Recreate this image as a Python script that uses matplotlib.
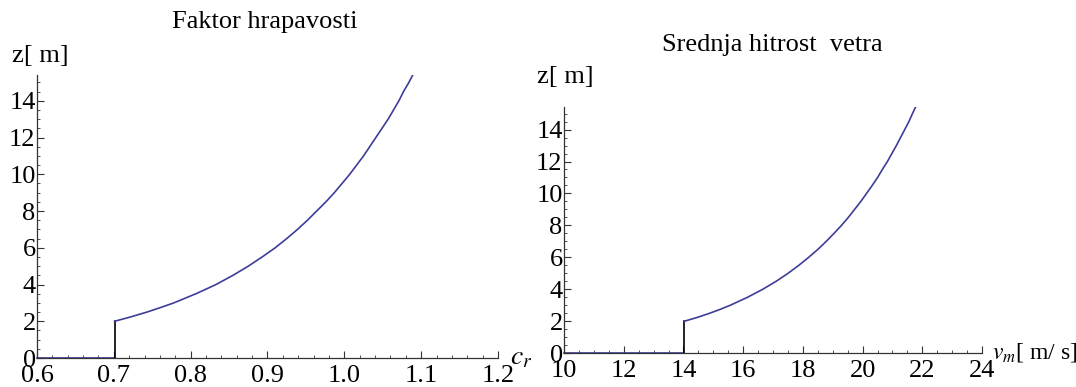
import matplotlib
matplotlib.use('Agg')
import matplotlib.pyplot as plt
from matplotlib.ticker import MultipleLocator, FormatStrFormatter

plt.rcParams['font.family'] = ['Liberation Serif', 'DejaVu Serif']
plt.rcParams['mathtext.fontset'] = 'stix'

# heights
z = [2, 2.25, 2.5, 2.75, 3, 3.5, 4, 4.5, 5, 5.5, 6, 6.5, 7, 7.5, 8, 8.5,
     9, 9.5, 10, 10.5, 11, 11.5, 12, 12.5, 13, 13.5, 14, 14.5, 15, 15.4]
# roughness factor c_r
c_r = [0.701, 0.723, 0.743, 0.761, 0.778, 0.807, 0.833, 0.855, 0.875, 0.893,
       0.910, 0.925, 0.939, 0.952, 0.964, 0.976, 0.987, 0.997, 1.007, 1.016,
       1.025, 1.033, 1.041, 1.049, 1.057, 1.064, 1.071, 1.077, 1.084, 1.089]
# mean wind speed v_m [m/s]
v_m = [14.02, 14.47, 14.87, 15.23, 15.56, 16.14, 16.65, 17.10, 17.50, 17.86,
       18.19, 18.50, 18.78, 19.04, 19.29, 19.52, 19.73, 19.94, 20.13, 20.32,
       20.50, 20.66, 20.83, 20.98, 21.13, 21.27, 21.41, 21.55, 21.67, 21.77]

blue = '#3d3d99'
fs = 19

fig = plt.figure(figsize=(10.76, 3.87), dpi=100)
ax1 = fig.add_axes([0.0344, 0.0749, 0.4284, 0.731])
ax2 = fig.add_axes([0.5242, 0.0871, 0.3885, 0.636])


def style(ax, xlim, xmaj, xmin):
    ax.set_xlim(*xlim)
    ax.set_ylim(0, 15.4)
    for s in ['top', 'right']:
        ax.spines[s].set_visible(False)
    for s in ['left', 'bottom']:
        ax.spines[s].set_color('#333333')
        ax.spines[s].set_linewidth(0.9)
    ax.xaxis.set_major_locator(MultipleLocator(xmaj))
    ax.xaxis.set_minor_locator(MultipleLocator(xmin))
    ax.yaxis.set_major_locator(MultipleLocator(2))
    ax.yaxis.set_minor_locator(MultipleLocator(0.5))
    ax.tick_params(which='major', direction='in', length=5, width=0.8,
                   labelsize=fs, color='#333333', pad=1)
    ax.tick_params(which='minor', direction='in', length=2.5, width=0.6,
                   color='#333333')
    ax.tick_params(axis='x', pad=5)


# left: roughness factor
ax1.plot([0.6, c_r[0]], [0, 0], color=blue, lw=1.2, clip_on=False)
ax1.plot([c_r[0], c_r[0]], [0, z[0]], color='black', lw=1.2)
ax1.plot(c_r, z, color=blue, lw=1.2)
style(ax1, (0.6, 1.2), 0.1, 0.02)
ax1.xaxis.set_major_formatter(FormatStrFormatter('%.1f'))
fig.text(265 / 1076, 1 - 22 / 387, 'Faktor hrapavosti', ha='center',
         va='center', fontsize=fs)
fig.text(12 / 1076, 1 - 56 / 387, 'z[ m]', ha='left', va='center',
         fontsize=fs)
fig.text(510 / 1076, 1 - 358 / 387, '$c_r$', ha='left', va='center',
         fontsize=fs + 1)

# right: mean wind speed
ax2.plot([10, v_m[0]], [0, 0], color=blue, lw=1.2, clip_on=False)
ax2.plot([v_m[0], v_m[0]], [0, z[0]], color='black', lw=1.2)
ax2.plot(v_m, z, color=blue, lw=1.2)
style(ax2, (10, 24), 2, 0.5)
fig.text(772 / 1076, 1 - 45 / 387, 'Srednja hitrost  vetra', ha='center',
         va='center', fontsize=fs)
fig.text(537 / 1076, 1 - 77 / 387, 'z[ m]', ha='left', va='center',
         fontsize=fs)
fig.text(992 / 1076, 1 - 352 / 387, '$v_m$[ m/ s]', ha='left', va='center',
         fontsize=17)

fig.savefig('out.png', dpi=100)
